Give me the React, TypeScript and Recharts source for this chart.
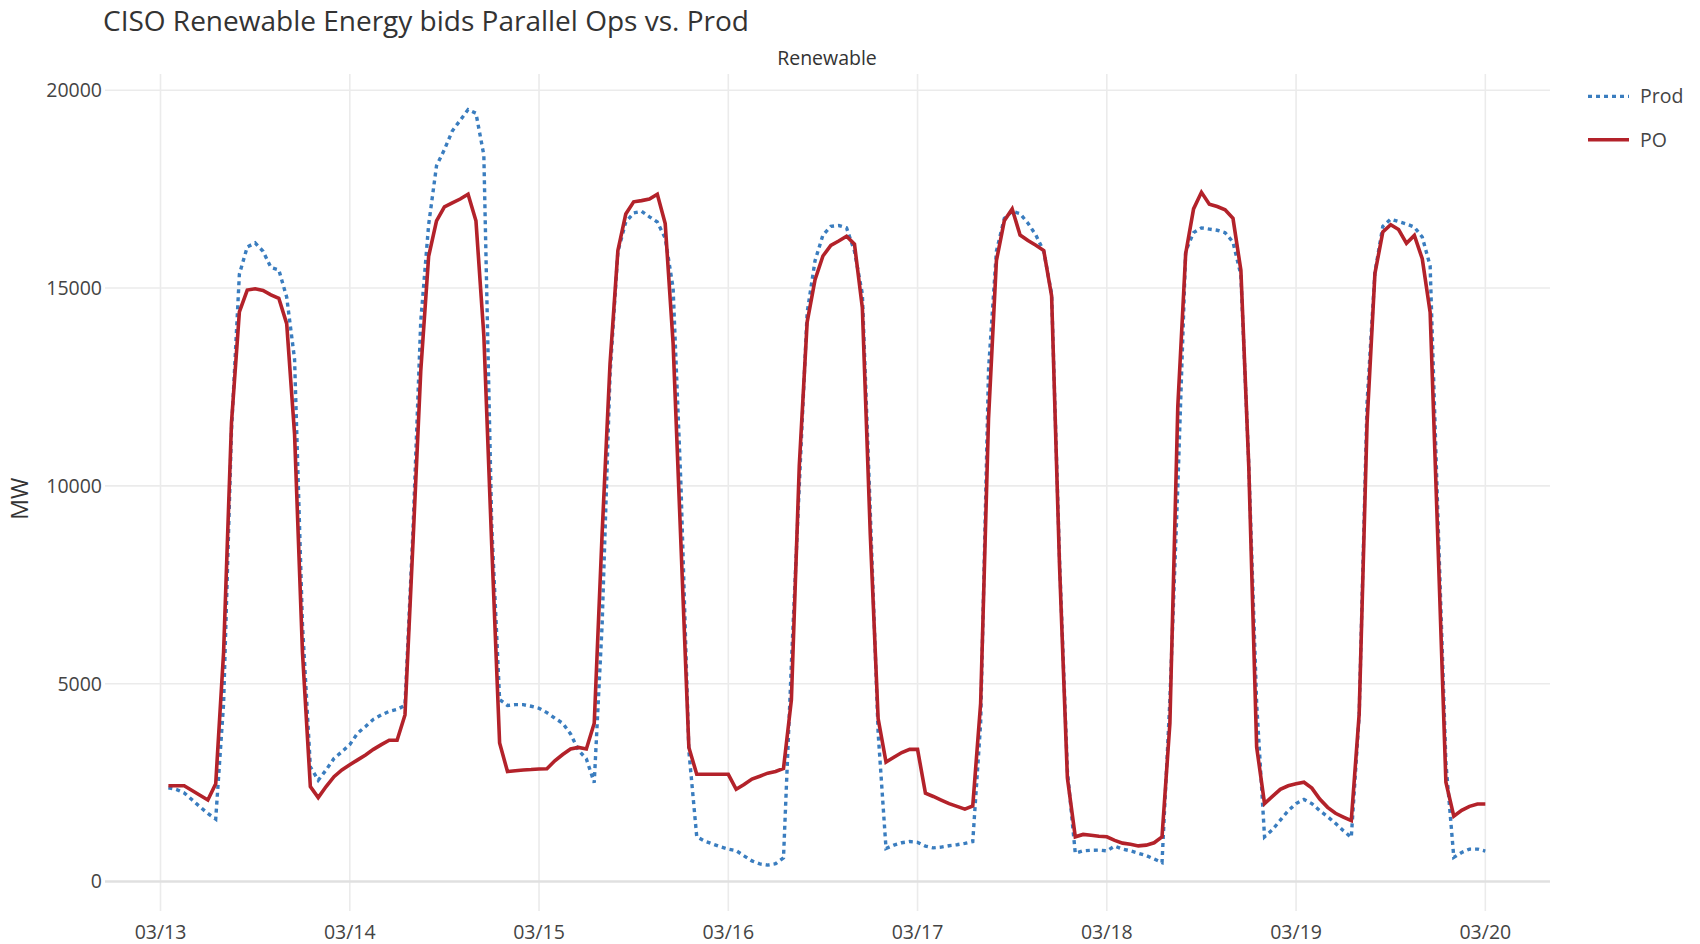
import { LineChart, Line, XAxis, YAxis, ReferenceLine } from 'recharts';

const FONT = '"Open Sans", sans-serif';

const dayLabels = ['03/13', '03/14', '03/15', '03/16', '03/17', '03/18', '03/19', '03/20'];
const xTicks = [0, 24, 48, 72, 96, 120, 144, 168];
const yTicks = [0, 5000, 10000, 15000, 20000];

// hourly MW, hour ending 1..24 of each day
const prod13 = [2370, 2330, 2240, 2065, 1890, 1720, 1580, 4500, 11400, 15350, 16040, 16140, 15930, 15520, 15460, 14770, 13200, 6500, 2900, 2560, 2820, 3110, 3280, 3460];
const po13 = [2420, 2420, 2420, 2300, 2180, 2060, 2470, 5800, 11600, 14400, 14950, 14980, 14940, 14830, 14740, 14100, 11300, 5800, 2400, 2120, 2400, 2650, 2820, 2950];

const prod14 = [3750, 3920, 4100, 4210, 4300, 4350, 4450, 8800, 14160, 16600, 18090, 18500, 18970, 19240, 19510, 19420, 18360, 9000, 4600, 4450, 4470, 4470, 4430, 4380];
const po14 = [3075, 3200, 3340, 3460, 3570, 3570, 4210, 8500, 12900, 15800, 16700, 17050, 17150, 17250, 17370, 16700, 13800, 8500, 3500, 2780, 2800, 2820, 2830, 2845];

const prod15 = [4270, 4130, 4000, 3730, 3320, 3100, 2500, 6500, 12800, 15920, 16670, 16900, 16940, 16800, 16670, 16260, 15000, 10000, 3300, 1130, 1020, 950, 880, 820];
const po15 = [2850, 3050, 3210, 3350, 3390, 3350, 4000, 8800, 13080, 15950, 16870, 17180, 17210, 17250, 17370, 16630, 13600, 8500, 3390, 2710, 2710, 2710, 2710, 2710];

const prod16 = [780, 650, 520, 445, 415, 450, 600, 5500, 10000, 14380, 15690, 16340, 16560, 16580, 16520, 15930, 14850, 9370, 3760, 835, 920, 980, 1010, 990];
const po16 = [2330, 2450, 2590, 2660, 2740, 2780, 2860, 4590, 10500, 14140, 15210, 15810, 16080, 16190, 16310, 16110, 14500, 8800, 4120, 3020, 3140, 3260, 3340, 3340];

const prod17 = [895, 850, 870, 905, 930, 965, 1010, 4000, 12940, 15930, 16760, 16940, 16880, 16640, 16340, 15930, 14850, 8170, 2800, 715, 775, 790, 795, 775];
const po17 = [2230, 2150, 2060, 1970, 1900, 1830, 1910, 4500, 11700, 15690, 16700, 17000, 16340, 16200, 16080, 15950, 14800, 8000, 2620, 1130, 1190, 1170, 1145, 1130];

const prod18 = [895, 820, 775, 715, 655, 570, 480, 4590, 9960, 15930, 16400, 16520, 16490, 16460, 16400, 16160, 15330, 10560, 4500, 1130, 1310, 1550, 1790, 1970];
const po18 = [1040, 970, 940, 900, 920, 980, 1130, 4000, 12000, 15870, 17000, 17420, 17120, 17060, 16980, 16760, 15450, 10500, 3400, 1970, 2150, 2330, 2420, 2470];

const prod19 = [2075, 1970, 1790, 1640, 1470, 1285, 1115, 4200, 12100, 15400, 16560, 16740, 16680, 16620, 16540, 16290, 15560, 9130, 3000, 610, 735, 820, 820, 770];
const po19 = [2510, 2360, 2085, 1875, 1725, 1630, 1540, 4230, 11580, 15370, 16420, 16600, 16480, 16130, 16330, 15740, 14390, 8500, 2510, 1650, 1800, 1900, 1960, 1960];

const prodDays = [prod13, prod14, prod15, prod16, prod17, prod18, prod19];
const poDays = [po13, po14, po15, po16, po17, po18, po19];

// x = hours since 03/13 00:00
const rows = prodDays.flatMap((day, d) =>
  day.map((v, i) => ({ h: d * 24 + i + 1, Prod: v, PO: poDays[d][i] }))
);

const BLUE = '#3a7dbf';
const RED = '#b3222a';
const GRID = '#ebebeb';

export default function App() {
  return (
    <div style={{ position: 'absolute', left: 0, top: 0, width: 1700, height: 944, background: '#fff', fontFamily: FONT }}>
      <LineChart width={1700} height={944} data={rows} margin={{ top: 74, right: 150, left: 0, bottom: 0 }}>
        {/* grid, drawn only at the ticks (no frame) */}
        {xTicks.map((t) => (
          <ReferenceLine key={`vx-${t}`} x={t} stroke={GRID} strokeWidth={1.6} />
        ))}
        {yTicks.map((t) => (
          <ReferenceLine
            key={`hy-${t}`}
            y={t}
            stroke={t === 0 ? '#e0e0e0' : GRID}
            strokeWidth={t === 0 ? 2.4 : 1.6}
          />
        ))}
        <XAxis
          dataKey="h"
          type="number"
          domain={[-7.04, 176.2]}
          allowDataOverflow
          ticks={xTicks}
          tickFormatter={(v: number) => dayLabels[Math.round(v / 24)]}
          axisLine={false}
          tickLine={false}
          tickSize={0}
          tickMargin={14}
          height={33}
          tick={{ fill: '#444', fontSize: 19.5, fontFamily: FONT }}
        />
        <YAxis
          type="number"
          domain={[-745, 20410]}
          allowDataOverflow
          ticks={yTicks}
          axisLine={false}
          tickLine={false}
          tickSize={0}
          tickMargin={3}
          width={105}
          tick={{ fill: '#444', fontSize: 19.5, fontFamily: FONT }}
        />
        <Line
          type="linear"
          dataKey="Prod"
          stroke={BLUE}
          strokeWidth={3.4}
          strokeDasharray="4 4"
          dot={false}
          isAnimationActive={false}
        />
        <Line
          type="linear"
          dataKey="PO"
          stroke={RED}
          strokeWidth={3.6}
          dot={false}
          isAnimationActive={false}
        />
      </LineChart>
      {/* titles and legend */}
      <svg width={1700} height={944} style={{ position: 'absolute', left: 0, top: 0, pointerEvents: 'none' }}>
        <text x={103} y={30.5} fontSize={28} fill="#333" fontFamily={FONT}>
          CISO Renewable Energy bids Parallel Ops vs. Prod
        </text>
        <text x={827} y={64.5} fontSize={19.5} fill="#333" fontFamily={FONT} textAnchor="middle">
          Renewable
        </text>
        <text
          x={0}
          y={0}
          fontSize={23}
          fill="#333"
          fontFamily={FONT}
          textAnchor="middle"
          transform="translate(27.5,498.7) rotate(-90)"
        >
          MW
        </text>
        <line x1={1588} x2={1629} y1={96.4} y2={96.4} stroke={BLUE} strokeWidth={3.4} strokeDasharray="4 4" />
        <text x={1640} y={103.4} fontSize={19.5} fill="#444" fontFamily={FONT}>Prod</text>
        <line x1={1588} x2={1629} y1={139.8} y2={139.8} stroke={RED} strokeWidth={3.6} />
        <text x={1640} y={146.8} fontSize={19.5} fill="#444" fontFamily={FONT}>PO</text>
      </svg>
    </div>
  );
}
